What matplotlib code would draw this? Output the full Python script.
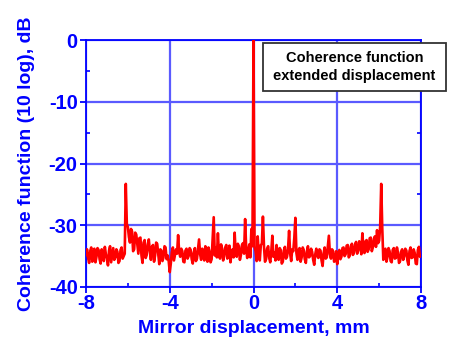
import numpy as np
import matplotlib

matplotlib.use("Agg")
import matplotlib.pyplot as plt
from matplotlib.patches import Rectangle

# sampling grid of the trace, mm (-8 .. 8, step 0.05)
x_start, x_stop, n_points = -8.0, 8.0, 321

# coherence function, dB (10 log)
coherence_db = [
    -34.8, -33.9, -35.3, -36.1, -34.2, -33.6, -35.9, -34.5, -33.8, -36.0,
    -35.1, -33.7, -34.0, -35.5, -36.2, -33.9, -34.6, -35.8, -33.5, -34.7,
    -35.4, -36.5, -34.1, -33.4, -36.0, -34.8, -33.7, -35.6, -35.2, -33.9,
    -34.3, -36.1, -35.8, -34.0, -33.6, -35.4, -35.0, -34.6, -23.3, -29.8,
    -30.3, -31.9, -32.8, -30.6, -31.0, -34.2, -33.9, -31.2, -31.5, -33.0,
    -34.6, -32.1, -32.0, -34.9, -36.1, -32.8, -32.4, -35.3, -34.8, -33.1,
    -32.3, -34.2, -35.6, -33.5, -33.2, -35.9, -34.9, -32.8, -33.0, -34.7,
    -36.3, -33.9, -34.1, -35.8, -35.2, -33.4, -33.6, -35.5, -34.9, -35.8,
    -37.6, -36.2, -34.4, -33.6, -35.7, -34.8, -33.9, -34.6, -31.6, -34.3,
    -35.1, -33.8, -34.2, -35.9, -36.0, -34.1, -33.8, -35.4, -35.0, -33.7,
    -34.0, -35.5, -36.2, -34.4, -33.7, -35.8, -35.4, -33.9, -32.3, -34.7,
    -35.6, -33.8, -34.1, -35.7, -33.4, -34.9, -35.9, -33.6, -34.3, -36.0,
    -35.5, -32.0, -28.7, -34.9, -33.6, -35.2, -31.3, -34.8, -35.4, -33.1,
    -33.8, -35.7, -35.0, -33.6, -33.2, -35.4, -34.6, -33.3, -36.0, -34.5,
    -33.9, -35.2, -31.2, -34.7, -35.1, -33.0, -33.4, -35.6, -34.8, -33.2,
    -32.9, -34.6, -29.0, -33.8, -35.3, -34.0, -33.1, -35.2, -30.6, -33.4,
    0.0, -33.5, -34.2, -35.8, -31.8, -34.6, -35.7, -33.2, -33.0, -28.6,
    -33.4, -35.9, -35.5, -33.8, -33.4, -35.3, -36.0, -34.2, -31.7, -35.1,
    -34.4, -35.7, -33.2, -34.8, -35.6, -33.7, -34.0, -36.2, -35.9, -34.1,
    -33.5, -35.4, -35.1, -33.8, -30.9, -34.6, -35.8, -33.9, -34.2, -32.0,
    -28.8, -34.5, -35.6, -34.0, -33.7, -35.9, -35.2, -33.6, -34.0, -35.5,
    -36.1, -34.3, -33.4, -35.2, -35.0, -33.8, -34.3, -35.6, -36.4, -34.7,
    -33.8, -35.0, -35.3, -33.9, -34.1, -35.7, -36.6, -34.5, -33.6, -35.4,
    -35.2, -33.5, -31.7, -34.7, -35.4, -33.9, -34.2, -35.9, -35.8, -34.2,
    -36.3, -34.6, -34.0, -35.5, -35.1, -33.7, -33.6, -35.0, -34.7, -33.3,
    -33.2, -35.2, -34.9, -33.4, -33.0, -34.8, -34.4, -33.1, -32.7, -34.6,
    -34.1, -32.6, -33.0, -34.7, -31.3, -33.8, -34.5, -32.6, -32.4, -34.3,
    -33.9, -32.1, -32.0, -34.2, -33.6, -32.2, -31.8, -33.5, -30.8, -32.9,
    -32.5, -30.2, -23.3, -30.5, -35.6, -34.4, -33.8, -35.9, -35.1, -33.7,
    -34.2, -35.8, -36.0, -34.0, -33.7, -35.4, -35.3, -33.6, -34.4, -36.1,
    -35.8, -34.3, -33.9, -35.6, -35.0, -33.8, -34.1, -35.7, -36.4, -34.2,
    -33.6, -35.3, -35.2, -33.9, -34.5, -36.2, -36.3, -34.0, -33.5, -35.1,
    -35.0,
]

x_major = [-8, -4, 0, 4, 8]
x_minor = [-6, -2, 2, 6]
y_major = [-40, -30, -20, -10, 0]
y_minor = [-35, -25, -15, -5]

x_label = "Mirror displacement, mm"
y_label = "Coherence function (10 log), dB"
box_text = "Coherence function\nextended displacement"

plt.rcParams["font.family"] = ["Liberation Sans", "DejaVu Sans"]
plt.rcParams["axes.unicode_minus"] = False
blue = "#0000ff"

fig = plt.figure(figsize=(4.58, 3.41), dpi=100)
ax = fig.add_axes([86 / 458, 1 - 287 / 341, 335 / 458, 247 / 341])

x = np.linspace(x_start, x_stop, n_points)
ax.plot(x, coherence_db, color="#ff0000", linewidth=1.9, zorder=3)

ax.set_xlim(-8, 8)
ax.set_ylim(-40, 0)
ax.set_xticks(x_major)
ax.set_xticks(x_minor, minor=True)
ax.set_yticks(y_major)
ax.set_yticks(y_minor, minor=True)
ax.grid(True, which="major", color="#5a5aff", linewidth=1.6, zorder=1)

for spine in ax.spines.values():
    spine.set_color(blue)
    spine.set_linewidth(1.3)

ax.tick_params(axis="both", which="major", colors=blue, labelsize=14.5,
               length=4, width=1.3, direction="out")
ax.tick_params(axis="both", which="minor", colors=blue, length=3, width=1.2,
               direction="in", right=True)
ax.tick_params(axis="y", which="major", pad=2)
ax.tick_params(axis="x", which="major", pad=1)
for lab in ax.get_xticklabels() + ax.get_yticklabels():
    lab.set_fontweight("bold")

ax.set_xlabel(x_label, color=blue, fontsize=14, fontweight="bold", labelpad=5)
ax.set_ylabel(y_label, color=blue, fontsize=14, fontweight="bold", labelpad=10)

# label box, partly outside the axes on the right
fig.patches.append(Rectangle((263 / 458, 1 - 91 / 341), 183 / 458, 48 / 341,
                             transform=fig.transFigure, facecolor="white",
                             edgecolor="#333333", linewidth=1.3, zorder=5))
fig.text(354.5 / 458, 1 - 67 / 341, box_text, ha="center", va="center",
         fontsize=10.5, fontweight="bold", color="black", linespacing=1.35,
         zorder=6)

fig.savefig("out.png", dpi=100)
